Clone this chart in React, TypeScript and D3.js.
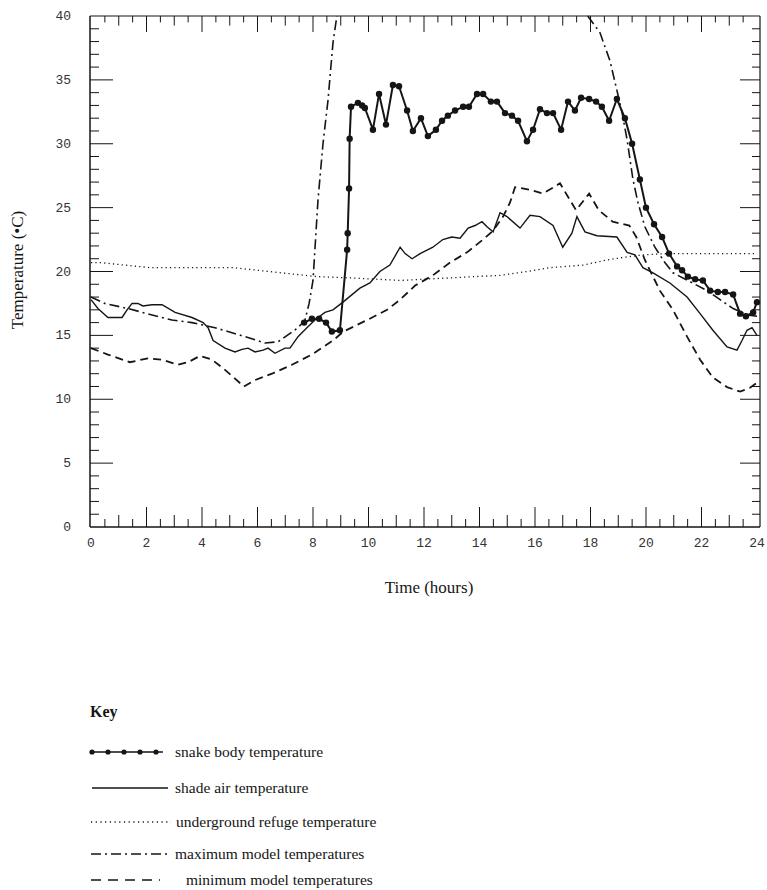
import React from "react";
import * as d3 from "d3";

// ---- data (hour, °C) ----
const snakeBody: [number, number][] = [
  [7.68, 16.0], [7.96, 16.3], [8.22, 16.3], [8.47, 16.0], [8.68, 15.3], [8.97, 15.4],
  [9.23, 21.7], [9.25, 23.0], [9.3, 26.5], [9.32, 30.4], [9.37, 32.9], [9.62, 33.2],
  [9.77, 33.0], [9.87, 32.8], [10.16, 31.1], [10.38, 33.9], [10.63, 31.5], [10.88, 34.6],
  [11.1, 34.5], [11.39, 32.6], [11.6, 31.0], [11.89, 32.0], [12.14, 30.6], [12.43, 31.1],
  [12.65, 31.8], [12.86, 32.2], [13.12, 32.6], [13.41, 32.9], [13.62, 32.9], [13.91, 33.9],
  [14.13, 33.9], [14.41, 33.3], [14.63, 33.3], [14.92, 32.4], [15.17, 32.2], [15.39, 31.8],
  [15.71, 30.2], [15.93, 31.1], [16.18, 32.7], [16.43, 32.4], [16.65, 32.4], [16.94, 31.1],
  [17.19, 33.3], [17.44, 32.6], [17.66, 33.6], [17.95, 33.5], [18.2, 33.3], [18.41, 32.9],
  [18.67, 31.8], [18.95, 33.5], [19.24, 32.0], [19.5, 30.0], [19.78, 27.2], [20.0, 25.0],
  [20.29, 23.7], [20.58, 22.7], [20.83, 21.4], [21.12, 20.4], [21.3, 20.1], [21.51, 19.6],
  [21.77, 19.4], [22.05, 19.3], [22.31, 18.5], [22.59, 18.4], [22.85, 18.4], [23.14, 18.2],
  [23.39, 16.7], [23.6, 16.5], [23.86, 16.8], [24.0, 17.6],
];

const shadeAir: [number, number][] = [
  [0, 17.8], [0.25, 17.1], [0.61, 16.4], [1.12, 16.4], [1.3, 17.0], [1.48, 17.5], [1.69, 17.5],
  [1.87, 17.3], [2.2, 17.4], [2.56, 17.4], [3.03, 16.8], [3.64, 16.4], [4.04, 16.0], [4.22, 15.6],
  [4.4, 14.6], [4.83, 14.0], [5.19, 13.7], [5.44, 13.9], [5.66, 14.0], [5.91, 13.7], [6.2, 13.85],
  [6.38, 14.0], [6.63, 13.6], [6.99, 14.0], [7.17, 14.0], [7.46, 14.9], [7.78, 15.6], [8.07, 16.2],
  [8.43, 16.8], [8.72, 17.0], [9.08, 17.6], [9.69, 18.7], [10.05, 19.1], [10.41, 20.0],
  [10.77, 20.5], [11.14, 21.9], [11.32, 21.4], [11.57, 21.0], [11.86, 21.4], [12.32, 21.9],
  [12.68, 22.5], [13.0, 22.7], [13.3, 22.6], [13.59, 23.4], [13.84, 23.6], [14.09, 23.9],
  [14.27, 23.5], [14.49, 23.1], [14.74, 24.6], [14.99, 24.3], [15.46, 23.4], [15.82, 24.4],
  [16.18, 24.3], [16.65, 23.6], [17.0, 21.9], [17.33, 23.0], [17.51, 24.3], [17.8, 23.1],
  [18.23, 22.8], [18.95, 22.7], [19.32, 21.5], [19.6, 21.3], [19.89, 20.3], [20.25, 19.9],
  [20.86, 19.1], [21.48, 18.0], [21.95, 16.7], [22.41, 15.4], [22.92, 14.1], [23.28, 13.85],
  [23.46, 14.6], [23.64, 15.4], [23.82, 15.6], [24.0, 15.0],
];

const refuge: [number, number][] = [
  [0, 20.7], [0.32, 20.7], [2.13, 20.3], [5.12, 20.3], [5.98, 20.1], [8.14, 19.6], [9.33, 19.5],
  [11.14, 19.3], [12.94, 19.5], [14.74, 19.7], [15.71, 20.0], [16.54, 20.3], [17.73, 20.5],
  [18.6, 20.9], [19.17, 21.1], [19.89, 21.3], [20.76, 21.4], [24.0, 21.4],
];

// null = off the top of the chart
const maxModel: [number, number | null][] = [
  [0, 18.0], [0.5, 17.5], [1.33, 17.1], [2.2, 16.6], [2.92, 16.2], [3.64, 16.0], [4.47, 15.6],
  [5.55, 14.9], [6.27, 14.4], [6.74, 14.5], [7.46, 15.6], [7.71, 16.2], [7.86, 17.5], [8.0, 19.3],
  [8.18, 25.6], [8.36, 30.0], [8.54, 33.4], [8.72, 37.9], [8.86, 40], [13, null],
  [17.9, 40], [18.34, 38.7], [18.7, 36.5], [18.95, 34.2], [19.14, 32.4], [19.32, 30.3],
  [19.53, 27.2], [19.71, 25.4], [19.96, 23.5], [20.32, 21.9], [20.68, 20.7], [20.97, 19.9],
  [21.59, 19.2], [22.2, 18.5], [22.67, 17.8], [23.14, 17.1], [23.64, 16.6], [24.0, 16.5],
];

const minModel: [number, number][] = [
  [0, 14.0], [0.61, 13.5], [1.4, 12.9], [2.05, 13.2], [2.56, 13.1], [3.14, 12.7], [3.5, 12.9],
  [3.93, 13.4], [4.36, 13.1], [4.83, 12.3], [5.51, 11.0], [5.91, 11.5], [6.52, 12.0], [7.24, 12.7],
  [7.96, 13.5], [8.72, 14.6], [9.1, 15.3], [9.95, 16.2], [10.67, 17.0], [11.14, 17.8],
  [11.68, 18.9], [12.32, 19.7], [12.94, 20.7], [13.55, 21.5], [14.13, 22.5], [14.49, 23.2],
  [14.85, 24.3], [15.1, 25.4], [15.28, 26.6], [15.82, 26.4], [16.29, 26.1], [16.9, 26.9],
  [17.48, 24.8], [17.95, 26.1], [18.3, 24.8], [18.8, 23.9], [19.4, 23.6], [19.65, 22.7],
  [19.96, 20.9], [20.5, 18.5], [20.97, 17.0], [21.48, 14.9], [21.95, 13.1], [22.41, 11.7],
  [22.92, 10.95], [23.39, 10.6], [23.75, 10.9], [24.0, 11.3],
];

const xTickLabels = [0, 2, 4, 6, 8, 10, 12, 14, 16, 18, 20, 22, 24];
const yTickLabels = [0, 5, 10, 15, 20, 25, 30, 35, 40];

const legendLabels = [
  "snake body temperature",
  "shade air temperature",
  "underground refuge temperature",
  "maximum model temperatures",
  "minimum model temperatures",
];

export default function App() {
  const W = 767;
  const H = 890;
  const x = d3.scaleLinear().domain([0, 24]).range([91, 757]);
  const y = d3.scaleLinear().domain([0, 40]).range([527, 16]);
  const left = 90;
  const right = 760;
  const top = y(40);
  const bottom = y(0);
  const ink = "#151515";
  const serif = "'Liberation Serif', 'Times New Roman', serif";
  const mono = "'Liberation Mono', 'Courier New', monospace";

  const line = d3
    .line<[number, number | null]>()
    .defined((d) => d[1] !== null)
    .x((d) => x(d[0]))
    .y((d) => y(d[1] as number));

  const halfHours = d3.range(0, 24.01, 0.5);
  const degrees = d3.range(0, 40.01, 1);

  const legendRows = [752, 788, 822, 854, 880];
  const legendTextX = [175, 175, 176, 175, 186];

  return (
    <svg width={W} height={H} style={{ position: "absolute", left: 0, top: 0, background: "#fff" }}>
      {/* frame */}
      <line x1={left} x2={left} y1={top} y2={bottom} stroke={ink} strokeWidth={1.5} />
      <line x1={left} x2={right} y1={bottom} y2={bottom} stroke={ink} strokeWidth={1.5} />
      <line x1={left} x2={right} y1={top} y2={top} stroke={ink} strokeWidth={1.2} />
      <line x1={right} x2={right} y1={top} y2={bottom} stroke={ink} strokeWidth={1.2} />

      {/* x ticks bottom / top */}
      {halfHours.map((h) => {
        const major = h % 2 === 0;
        const mid = !major && h % 1 === 0;
        const len = major ? 20 : mid ? 12 : 8;
        if (h <= 0 || h >= 24) return null;
        return (
          <g key={"xt" + h}>
            <line x1={x(h)} x2={x(h)} y1={bottom} y2={bottom - len} stroke={ink} strokeWidth={1} />
            <line x1={x(h)} x2={x(h)} y1={top} y2={top + len * 0.8} stroke={ink} strokeWidth={1} />
          </g>
        );
      })}
      {/* y ticks left / right */}
      {degrees.map((t) => {
        const major = t % 5 === 0;
        const len = major ? 23 : 9;
        if (t === 0 || t === 40) return null;
        return (
          <g key={"yt" + t}>
            <line x1={left} x2={left + len} y1={y(t)} y2={y(t)} stroke={ink} strokeWidth={1} />
            <line x1={right} x2={right - (major ? 20 : 8)} y1={y(t)} y2={y(t)} stroke={ink} strokeWidth={1} />
          </g>
        );
      })}

      {/* tick labels */}
      {xTickLabels.map((h) => (
        <text key={"xl" + h} x={x(h)} y={bottom + 20} textAnchor="middle" fontFamily={mono} fontSize={13} fill="#333">
          {h}
        </text>
      ))}
      {yTickLabels.map((t) => (
        <text key={"yl" + t} x={71} y={y(t) + 4} textAnchor="end" fontFamily={mono} fontSize={13} fill="#333">
          {t}
        </text>
      ))}

      {/* axis titles */}
      <text x={429} y={593} textAnchor="middle" fontFamily={serif} fontSize={17} fill={ink}>
        Time (hours)
      </text>
      <text
        transform={`translate(23, 270) rotate(-90)`}
        textAnchor="middle"
        fontFamily={serif}
        fontSize={17}
        fill={ink}
      >
        Temperature (•C)
      </text>

      {/* series */}
      <path d={line(refuge) || ""} fill="none" stroke={ink} strokeWidth={1.3} strokeDasharray="1.2,3.2" />
      <path d={line(minModel) || ""} fill="none" stroke={ink} strokeWidth={1.8} strokeDasharray="8,5" />
      <path d={line(maxModel) || ""} fill="none" stroke={ink} strokeWidth={1.6} strokeDasharray="10,4,2,4" />
      <path d={line(shadeAir) || ""} fill="none" stroke={ink} strokeWidth={1.4} />
      <path d={line(snakeBody) || ""} fill="none" stroke={ink} strokeWidth={2} />
      {snakeBody.map((d, i) => (
        <circle key={"s" + i} cx={x(d[0])} cy={y(d[1])} r={3.2} fill={ink} />
      ))}

      {/* legend */}
      <text x={90} y={717} fontFamily={serif} fontSize={16} fontWeight="bold" fill={ink}>
        Key
      </text>
      {legendLabels.map((lab, i) => {
        const ly = legendRows[i];
        return (
          <g key={"lg" + i}>
            {i === 0 && (
              <g>
                <line x1={91} x2={163} y1={ly} y2={ly} stroke={ink} strokeWidth={1.5} />
                {[92, 108, 124, 140, 156].map((cx) => (
                  <circle key={cx} cx={cx} cy={ly} r={2.6} fill={ink} />
                ))}
              </g>
            )}
            {i === 1 && <line x1={92} x2={168} y1={ly} y2={ly} stroke={ink} strokeWidth={1.3} />}
            {i === 2 && (
              <line x1={91} x2={171} y1={ly} y2={ly} stroke={ink} strokeWidth={1.3} strokeDasharray="1.2,3.5" />
            )}
            {i === 3 && (
              <line x1={91} x2={170} y1={ly} y2={ly} stroke={ink} strokeWidth={1.3} strokeDasharray="10,4,2,4" />
            )}
            {i === 4 && (
              <line x1={91} x2={160} y1={ly} y2={ly} stroke={ink} strokeWidth={1.3} strokeDasharray="10,7" />
            )}
            <text x={legendTextX[i]} y={ly + 5} fontFamily={serif} fontSize={15.5} fill={ink}>
              {lab}
            </text>
          </g>
        );
      })}
    </svg>
  );
}
